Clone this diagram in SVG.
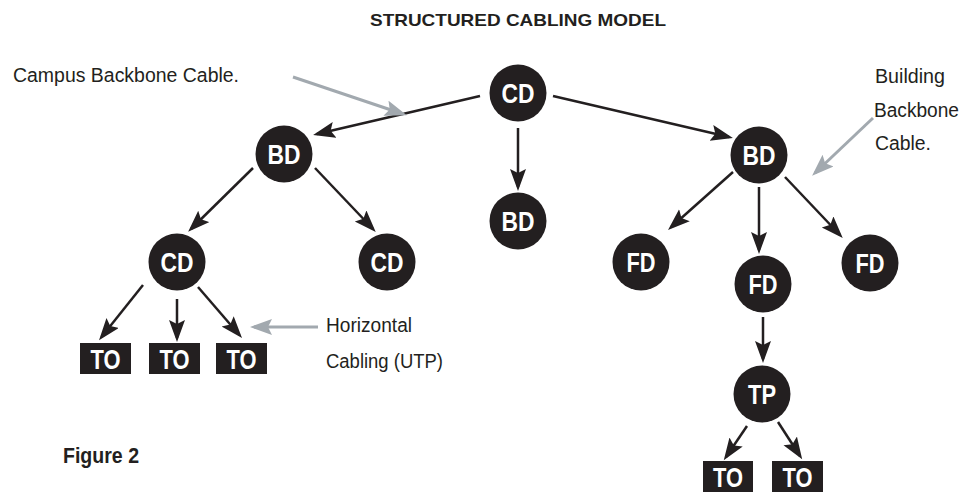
<svg xmlns="http://www.w3.org/2000/svg" width="966" height="492" viewBox="0 0 966 492">
<style>
.node circle{fill:#231f20}
.node rect{fill:#231f20}
.lbl{font-family:"Liberation Sans",Arial,sans-serif;font-weight:bold;font-size:28px;fill:#fff;text-anchor:middle}
.txt{font-family:"Liberation Sans",Arial,sans-serif;font-size:20px;fill:#231f20}
.ttl{font-family:"Liberation Sans",Arial,sans-serif;font-weight:bold;font-size:17px;fill:#231f20}
.blk{stroke:#231f20;stroke-width:2.5;fill:none;marker-end:url(#ah)}
.gry{stroke:#a2a9af;stroke-width:3;fill:none;marker-end:url(#ahg)}
</style>
<defs>
<marker id="ah" markerUnits="userSpaceOnUse" markerWidth="24" markerHeight="18" refX="18" refY="8" orient="auto"><path d="M0,0 L22,8 L0,16 L4,8 z" fill="#231f20"/></marker>
<marker id="ahg" markerUnits="userSpaceOnUse" markerWidth="24" markerHeight="18" refX="18" refY="8" orient="auto"><path d="M0,0 L22,8 L0,16 L4,8 z" fill="#a2a9af"/></marker>
</defs>
<rect width="966" height="492" fill="#fff"/>
<g id="texts">
<text class="ttl" x="518" y="26" text-anchor="middle" textLength="296" lengthAdjust="spacingAndGlyphs">STRUCTURED CABLING MODEL</text>
<text class="txt" x="13" y="82" textLength="226" lengthAdjust="spacingAndGlyphs">Campus Backbone Cable.</text>
<text class="txt" x="875" y="83" textLength="70" lengthAdjust="spacingAndGlyphs">Building</text>
<text class="txt" x="874" y="117" textLength="85" lengthAdjust="spacingAndGlyphs" style="font-size:19.5px">Backbone</text>
<text class="txt" x="875" y="150" textLength="56" lengthAdjust="spacingAndGlyphs">Cable.</text>
<text class="txt" x="326" y="332" textLength="86" lengthAdjust="spacingAndGlyphs">Horizontal</text>
<text class="txt" x="326" y="368" textLength="117" lengthAdjust="spacingAndGlyphs">Cabling (UTP)</text>
<text class="ttl" x="63" y="463" textLength="76" lengthAdjust="spacingAndGlyphs" style="font-size:22px">Figure 2</text>
</g>
<g id="connectors">
<line class="blk" x1="480" y1="96" x2="317" y2="134"/>
<line class="blk" x1="518" y1="128" x2="518" y2="187"/>
<line class="blk" x1="553" y1="96" x2="729" y2="137"/>
<line class="blk" x1="253" y1="168" x2="191" y2="229"/>
<line class="blk" x1="315" y1="168" x2="373" y2="229"/>
<line class="blk" x1="143" y1="285" x2="101.5" y2="337"/>
<line class="blk" x1="177" y1="299" x2="177" y2="338"/>
<line class="blk" x1="198" y1="287" x2="239.4" y2="335"/>
<line class="blk" x1="733" y1="172" x2="671" y2="227.3"/>
<line class="blk" x1="759" y1="187" x2="759" y2="250"/>
<line class="blk" x1="785" y1="177" x2="840" y2="235"/>
<line class="blk" x1="763" y1="317" x2="763" y2="359"/>
<line class="blk" x1="747" y1="426" x2="726" y2="457"/>
<line class="blk" x1="778" y1="422" x2="800" y2="456"/>
<line class="gry" x1="293" y1="77" x2="403" y2="114"/>
<line class="gry" x1="873" y1="118" x2="815" y2="173"/>
<line class="gry" x1="318" y1="327" x2="254" y2="327"/>
</g>
<g id="n-cd-top" class="node"><circle cx="518" cy="93" r="28.5"/><text class="lbl" x="518" y="103" textLength="33" lengthAdjust="spacingAndGlyphs">CD</text></g>
<g id="n-bd-left" class="node"><circle cx="284" cy="154" r="28.5"/><text class="lbl" x="284" y="164" textLength="33" lengthAdjust="spacingAndGlyphs">BD</text></g>
<g id="n-bd-mid" class="node"><circle cx="518" cy="221" r="28.5"/><text class="lbl" x="518" y="231" textLength="33" lengthAdjust="spacingAndGlyphs">BD</text></g>
<g id="n-bd-right" class="node"><circle cx="759" cy="155" r="28.5"/><text class="lbl" x="759" y="165" textLength="33" lengthAdjust="spacingAndGlyphs">BD</text></g>
<g id="n-cd-left" class="node"><circle cx="177" cy="262" r="28.5"/><text class="lbl" x="177" y="272" textLength="33" lengthAdjust="spacingAndGlyphs">CD</text></g>
<g id="n-cd-right" class="node"><circle cx="387" cy="262" r="28.5"/><text class="lbl" x="387" y="272" textLength="33" lengthAdjust="spacingAndGlyphs">CD</text></g>
<g id="n-fd-left" class="node"><circle cx="641" cy="262" r="28.5"/><text class="lbl" x="641" y="272" textLength="29" lengthAdjust="spacingAndGlyphs">FD</text></g>
<g id="n-fd-mid" class="node"><circle cx="763" cy="284" r="28.5"/><text class="lbl" x="763" y="294" textLength="29" lengthAdjust="spacingAndGlyphs">FD</text></g>
<g id="n-fd-right" class="node"><circle cx="870" cy="263" r="28.5"/><text class="lbl" x="870" y="273" textLength="29" lengthAdjust="spacingAndGlyphs">FD</text></g>
<g id="n-tp" class="node"><circle cx="762" cy="394" r="28.5"/><text class="lbl" x="762" y="404" textLength="28" lengthAdjust="spacingAndGlyphs">TP</text></g>
<g id="n-to1" class="node"><rect x="80" y="343" width="51" height="31"/><text class="lbl" x="105.5" y="369" textLength="30" lengthAdjust="spacingAndGlyphs">TO</text></g>
<g id="n-to2" class="node"><rect x="149" y="343" width="51" height="31"/><text class="lbl" x="174.5" y="369" textLength="30" lengthAdjust="spacingAndGlyphs">TO</text></g>
<g id="n-to3" class="node"><rect x="216" y="343" width="51" height="31"/><text class="lbl" x="241.5" y="369" textLength="30" lengthAdjust="spacingAndGlyphs">TO</text></g>
<g id="n-to4" class="node"><rect x="703" y="461" width="50" height="31"/><text class="lbl" x="728" y="487" textLength="30" lengthAdjust="spacingAndGlyphs">TO</text></g>
<g id="n-to5" class="node"><rect x="772" y="461" width="51" height="31"/><text class="lbl" x="797.5" y="487" textLength="30" lengthAdjust="spacingAndGlyphs">TO</text></g>
</svg>
